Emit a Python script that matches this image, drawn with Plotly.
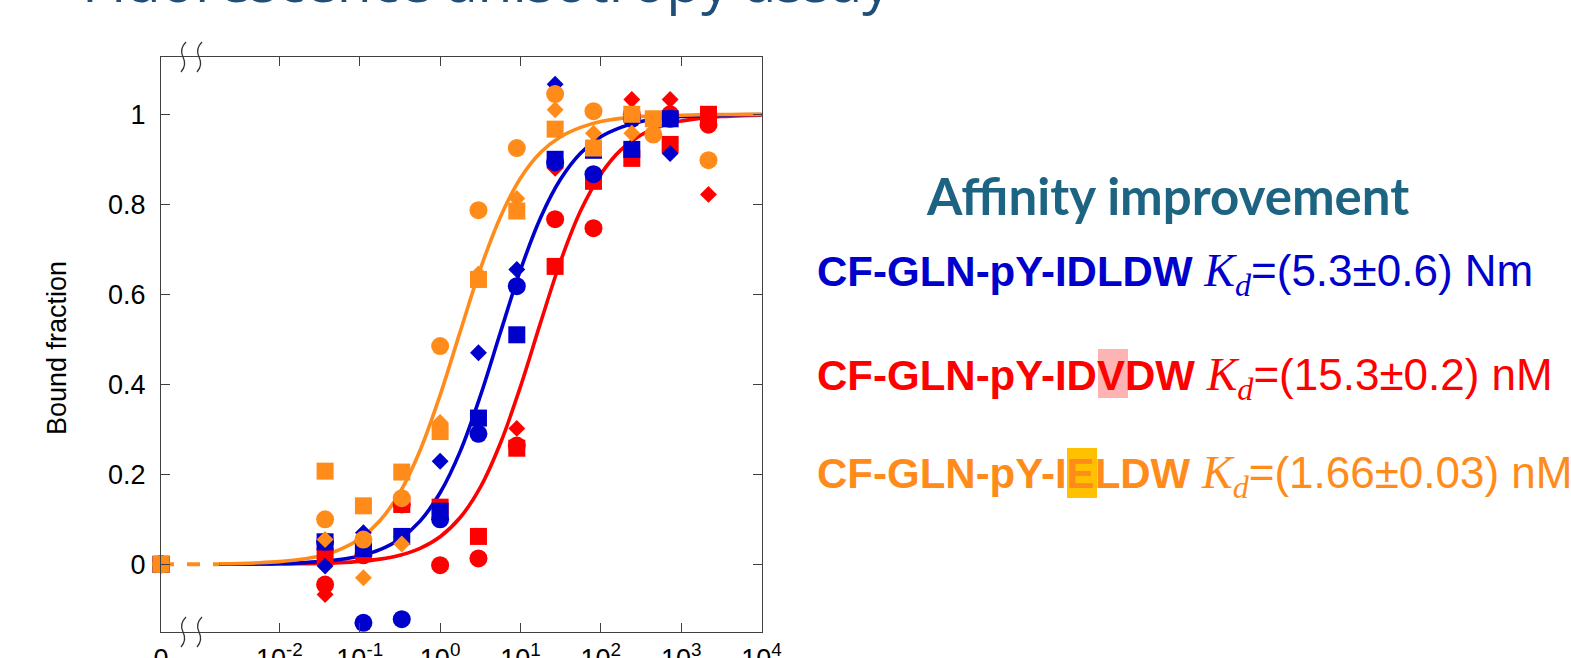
import plotly.graph_objects as go

# ---------------- data ----------------
# concentrations in nM (0 = no protein)
red_sq_x = [0, 0.037, 0.111, 0.333, 1, 3, 9, 27, 81, 243, 729, 2187]
red_sq_y = [0, 0.018, 0.03, 0.133, 0.127, 0.062, 0.258, 0.662, 0.851, 0.902, 0.933, 1.0]
red_ci_x = [0, 0.037, 0.111, 0.333, 1, 3, 9, 27, 81, 243, 729, 2187]
red_ci_y = [0, -0.045, 0.02, 0.133, -0.002, 0.013, 0.264, 0.767, 0.747, 1.0, 1.0, 0.977]
red_di_x = [0, 0.037, 0.111, 0.333, 1, 3, 9, 27, 81, 243, 729, 2187]
red_di_y = [0, -0.067, 0.03, 0.133, 0.127, 0.062, 0.302, 0.88, 0.851, 1.033, 1.033, 0.822]

blue_sq_x = [0, 0.037, 0.111, 0.333, 1, 3, 9, 27, 81, 243, 729]
blue_sq_y = [0, 0.05, 0.035, 0.062, 0.118, 0.325, 0.51, 0.90, 0.92, 0.922, 0.99]
blue_ci_x = [0, 0.037, 0.111, 0.333, 1, 3, 9, 27, 81, 243, 729]
blue_ci_y = [0, 0.05, -0.13, -0.122, 0.10, 0.29, 0.618, 0.893, 0.867, 0.99, 0.99]
blue_di_x = [0, 0.037, 0.111, 0.333, 1, 3, 9, 27, 81, 243, 729]
blue_di_y = [0, -0.004, 0.07, 0.062, 0.229, 0.47, 0.655, 1.067, 0.93, 0.99, 0.913]

orange_sq_x = [0, 0.037, 0.111, 0.333, 1, 3, 9, 27, 81, 243, 450]
orange_sq_y = [0, 0.207, 0.13, 0.205, 0.295, 0.633, 0.785, 0.967, 0.925, 1.0, 0.99]
orange_ci_x = [0, 0.037, 0.111, 0.333, 1, 3, 9, 27, 81, 450, 2187]
orange_ci_y = [0, 0.10, 0.055, 0.147, 0.485, 0.787, 0.925, 1.045, 1.007, 0.955, 0.898]
orange_di_x = [0, 0.037, 0.111, 0.333, 1, 3, 9, 27, 81, 243]
orange_di_y = [0, 0.055, -0.03, 0.045, 0.315, 0.645, 0.813, 1.01, 0.958, 0.958]

# fitted curves, read at log10(concentration) grid
curve_log_x = [-2.75, -2.5, -2.25, -2, -1.75, -1.5, -1.25, -1, -0.75, -0.5, -0.25, 0,
               0.25, 0.5, 0.75, 1, 1.25, 1.5, 1.75, 2, 2.25, 2.5, 2.75, 3, 3.25, 3.5, 3.75, 4]
blue_fit = [0.0003, 0.0006, 0.0011, 0.0019, 0.0033, 0.0059, 0.0105, 0.0185, 0.0325, 0.0563,
            0.0959, 0.159, 0.251, 0.374, 0.515, 0.654, 0.770, 0.856, 0.914, 0.950, 0.971,
            0.984, 0.991, 0.995, 0.997, 0.998, 0.999, 0.9995]
red_fit = [0.0001, 0.0002, 0.0004, 0.0007, 0.0012, 0.0021, 0.0037, 0.0065, 0.0115, 0.0202,
           0.0354, 0.0613, 0.104, 0.171, 0.269, 0.395, 0.537, 0.674, 0.786, 0.867, 0.921,
           0.954, 0.974, 0.985, 0.9915, 0.995, 0.997, 0.998]
orange_fit = [0.0011, 0.0019, 0.0034, 0.006, 0.0106, 0.0187, 0.0328, 0.0568, 0.0967, 0.160,
              0.253, 0.376, 0.517, 0.656, 0.772, 0.858, 0.915, 0.950, 0.971, 0.984, 0.991,
              0.995, 0.997, 0.998, 0.999, 0.9995, 0.9997, 0.9998]

y_tick_vals = [0, 0.2, 0.4, 0.6, 0.8, 1]
y_tick_text = ["0", "0.2", "0.4", "0.6", "0.8", "1"]
x_tick_vals = [1e-2, 1e-1, 1e0, 1e1, 1e2, 1e3, 1e4]
x_tick_text = ["0", "10<sup>-2</sup>", "10<sup>-1</sup>", "10<sup>0</sup>", "10<sup>1</sup>",
               "10<sup>2</sup>", "10<sup>3</sup>", "10<sup>4</sup>"]

# ---------------- styling ----------------
BLUE = "#0000CC"
RED = "#FF0000"
ORANGE = "#FF8C1A"
AXIS = "#404040"

X_LOG_MIN, X_LOG_MAX = -3.474, 4.006
ZERO_POS = 10 ** X_LOG_MIN          # where concentration "0" is drawn (left edge)
Y_MIN, Y_MAX = -0.1504, 1.1273

ML, MR, MT, MB = 161, 809, 57, 26
W, H = 1571, 658
L, R, T, B = ML, W - MR, MT, H - MB


def pxx(xp):
    return (xp - L) / (R - L)


def pxy(yp):
    return (B - yp) / (B - T)


def xs(c):
    return [ZERO_POS if v == 0 else v for v in c]


fig = go.Figure()

# dashed zero segment across the axis break
fig.add_trace(go.Scatter(x=[ZERO_POS, 10 ** curve_log_x[0]], y=[0, 0], mode="lines",
                         line=dict(color=ORANGE, width=4, dash="13px,13px"),
                         hoverinfo="skip", cliponaxis=False))

curve_x = [10 ** v for v in curve_log_x]
for yy, col in [(red_fit, RED), (blue_fit, BLUE), (orange_fit, ORANGE)]:
    fig.add_trace(go.Scatter(x=curve_x, y=yy, mode="lines", line=dict(color=col, width=3.6, shape="spline"),
                             hoverinfo="skip"))

series = [
    (red_sq_x, red_sq_y, RED, "square", 17),
    (red_ci_x, red_ci_y, RED, "circle", 18),
    (red_di_x, red_di_y, RED, "diamond", 13),
    (blue_sq_x, blue_sq_y, BLUE, "square", 17),
    (blue_ci_x, blue_ci_y, BLUE, "circle", 18),
    (blue_di_x, blue_di_y, BLUE, "diamond", 13),
    (orange_sq_x, orange_sq_y, ORANGE, "square", 17),
    (orange_ci_x, orange_ci_y, ORANGE, "circle", 18),
    (orange_di_x, orange_di_y, ORANGE, "diamond", 13),
]
for sx, sy, col, sym, sz in series:
    fig.add_trace(go.Scatter(x=xs(sx), y=sy, mode="markers", cliponaxis=False,
                             marker=dict(color=col, symbol=sym, size=sz, line=dict(width=0))))

fig.update_layout(
    width=W, height=H, margin=dict(l=ML, r=MR, t=MT, b=MB, autoexpand=False),
    paper_bgcolor="white", plot_bgcolor="white", showlegend=False,
    font=dict(family="Liberation Sans, Arial, sans-serif", size=27, color="black"),
)
fig.update_xaxes(type="log", range=[X_LOG_MIN, X_LOG_MAX], automargin=False,
                 tickvals=[ZERO_POS] + x_tick_vals, ticktext=x_tick_text,
                 ticks="inside", ticklen=9, tickcolor=AXIS, tickwidth=1.2,
                 showline=True, linecolor=AXIS, linewidth=1.2, mirror="ticks",
                 showgrid=False, zeroline=False, tickfont=dict(size=27), ticklabelstandoff=2)
fig.update_yaxes(range=[Y_MIN, Y_MAX], tickvals=y_tick_vals, ticktext=y_tick_text, automargin=False,
                 ticks="inside", ticklen=9, tickcolor=AXIS, tickwidth=1.2,
                 showline=True, linecolor=AXIS, linewidth=1.2, mirror="ticks",
                 showgrid=False, zeroline=False, tickfont=dict(size=27), ticklabelstandoff=9)

annotations = []
# y-axis title
annotations.append(dict(text="Bound fraction", x=pxx(57), y=pxy(348), xref="paper", yref="paper",
                        showarrow=False, textangle=-90, font=dict(size=27, color="black"),
                        xanchor="center", yanchor="middle"))
# slide title (cut off at the top of the picture)
annotations.append(dict(text="Fluorescence anisotropy assay", x=pxx(893), y=pxy(21), xref="paper",
                        yref="paper", showarrow=False, xanchor="right", yanchor="bottom",
                        font=dict(family="Open Sans", size=57, color="#1F4E79")))
annotations.append(dict(text="<b>Affinity improvement</b>", x=pxx(1167), y=pxy(195), xref="paper",
                        yref="paper", showarrow=False, xanchor="center", yanchor="middle",
                        font=dict(family="Lato", size=51, color="#1D6482")))

KD = ("<span style=\"font-family:'Liberation Serif'; font-style:italic; font-size:46px\">"
      "K<sub>d</sub></span>")
lines = [
    ("CF-GLN-pY-IDLDW", "=(5.3±0.6) Nm", BLUE, 274),
    ("CF-GLN-pY-IDVDW", "=(15.3±0.2) nM", RED, 378),
    ("CF-GLN-pY-IELDW", "=(1.66±0.03) nM", ORANGE, 476),
]
for pep, kd, col, yc in lines:
    annotations.append(dict(text=f"<b>{pep}</b> {KD}<span style=\"font-size:44px\">{kd}</span>",
                            x=pxx(815), y=pxy(yc), xref="paper",
                            yref="paper", showarrow=False, xanchor="left", yanchor="middle",
                            font=dict(family="Liberation Sans", size=42, color=col)))
fig.update_layout(annotations=annotations)

shapes = []
# highlight boxes behind mutated residues
shapes.append(dict(type="rect", xref="paper", yref="paper", x0=pxx(1098), x1=pxx(1128),
                   y0=pxy(398), y1=pxy(349), fillcolor="#FFB4B4", line=dict(width=0), layer="below"))
shapes.append(dict(type="rect", xref="paper", yref="paper", x0=pxx(1067), x1=pxx(1097),
                   y0=pxy(498), y1=pxy(448), fillcolor="#FFC000", line=dict(width=0), layer="below"))


def break_path(xc, yc):
    pts = [(xc + 3, yc - 15), (xc - 4, yc - 8), (xc, yc), (xc + 4, yc + 8), (xc - 2, yc + 15)]
    p = [(pxx(a), pxy(b)) for a, b in pts]
    return (f"M {p[0][0]},{p[0][1]} Q {p[1][0]},{p[1][1]} {p[2][0]},{p[2][1]} "
            f"Q {p[3][0]},{p[3][1]} {p[4][0]},{p[4][1]}")


for xc in (183, 199):
    for yc in (T, B):
        shapes.append(dict(type="path", xref="paper", yref="paper", path=break_path(xc, yc),
                           line=dict(color="#333333", width=1.3)))
fig.update_layout(shapes=shapes)

fig.write_html("out.html")
